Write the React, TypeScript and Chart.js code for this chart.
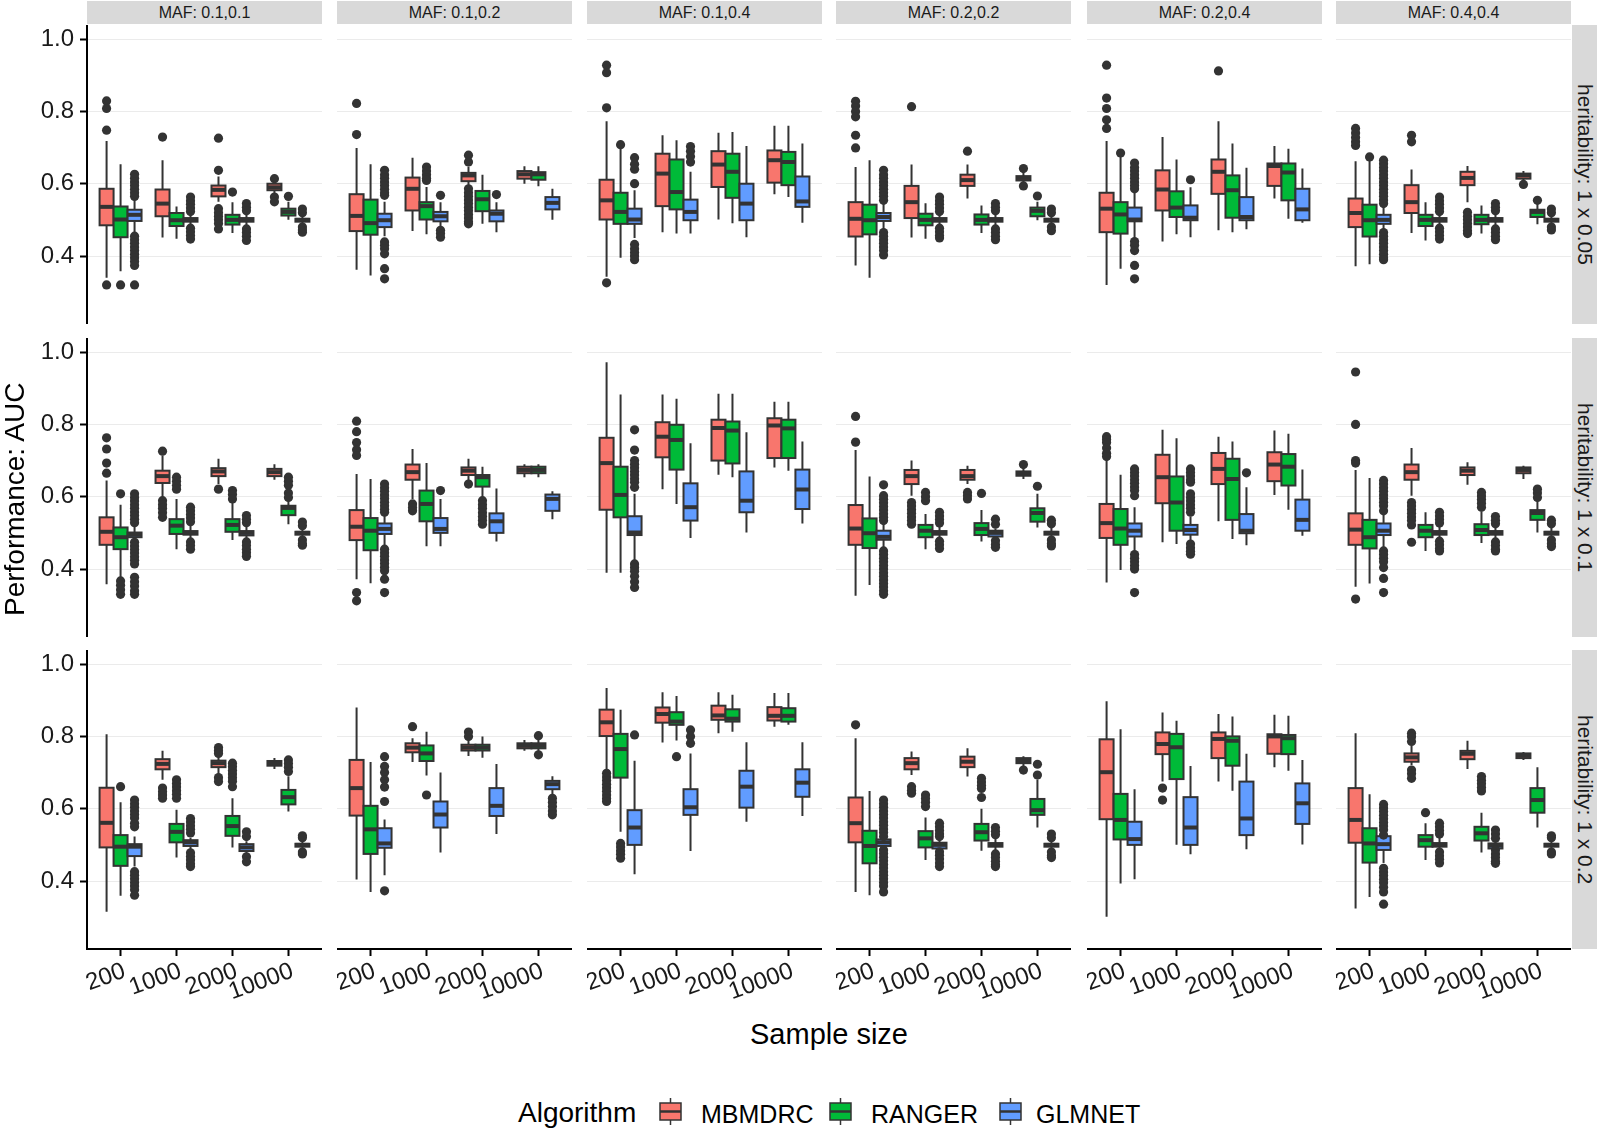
import React, { useEffect, useRef } from 'react';
import { Chart, registerables } from 'chart.js';

Chart.register(...registerables);

// ---- categories & labels ----
const SAMPLE_SIZES = ['200', '1000', '2000', '10000'];
const MAF_LABELS = ['MAF: 0.1,0.1', 'MAF: 0.1,0.2', 'MAF: 0.1,0.4', 'MAF: 0.2,0.2', 'MAF: 0.2,0.4', 'MAF: 0.4,0.4'];
const HERITABILITY_LABELS = ['heritability: 1 x 0.05', 'heritability: 1 x 0.1', 'heritability: 1 x 0.2'];
const ALGORITHMS = ['MBMDRC', 'RANGER', 'GLMNET'];
const ALGO_COLORS = ['#F8766D', '#00BA38', '#619CFF'];
const Y_TICKS = [0.4, 0.6, 0.8, 1.0];

// Box statistics per [heritability row][MAF column][sample size] = [lower whisker, Q1, median, Q3, upper whisker]
type Stat = number[];
const MBMDRC_STATS: Stat[][][] = [
  [
    [[0.34, 0.485, 0.536, 0.586, 0.718], [0.451, 0.51, 0.545, 0.584, 0.665], [0.55, 0.565, 0.583, 0.595, 0.62], [0.57, 0.582, 0.59, 0.6, 0.605]],
    [[0.362, 0.469, 0.511, 0.571, 0.699], [0.469, 0.526, 0.586, 0.617, 0.672], [0.594, 0.607, 0.623, 0.63, 0.646], [0.6, 0.614, 0.626, 0.635, 0.648]],
    [[0.343, 0.501, 0.554, 0.611, 0.773], [0.466, 0.538, 0.628, 0.683, 0.734], [0.501, 0.591, 0.653, 0.69, 0.741], [0.571, 0.603, 0.665, 0.692, 0.76]],
    [[0.374, 0.454, 0.503, 0.549, 0.646], [0.451, 0.505, 0.549, 0.594, 0.653], [0.559, 0.594, 0.61, 0.625, 0.653], [0.6, 0.609, 0.616, 0.621, 0.632]],
    [[0.32, 0.466, 0.531, 0.575, 0.718], [0.44, 0.526, 0.584, 0.637, 0.729], [0.471, 0.572, 0.633, 0.667, 0.773], [0.559, 0.594, 0.649, 0.656, 0.704]],
    [[0.372, 0.48, 0.519, 0.559, 0.662], [0.464, 0.519, 0.549, 0.596, 0.639], [0.549, 0.596, 0.616, 0.633, 0.649], [0.605, 0.614, 0.623, 0.628, 0.635]],
  ],
  [
    [[0.358, 0.467, 0.503, 0.543, 0.645], [0.598, 0.638, 0.657, 0.672, 0.714], [0.635, 0.657, 0.67, 0.679, 0.705], [0.647, 0.657, 0.668, 0.677, 0.69]],
    [[0.372, 0.48, 0.517, 0.563, 0.663], [0.594, 0.647, 0.668, 0.689, 0.732], [0.645, 0.66, 0.672, 0.681, 0.705], [0.654, 0.665, 0.674, 0.683, 0.69]],
    [[0.39, 0.564, 0.693, 0.763, 0.972], [0.621, 0.709, 0.766, 0.806, 0.883], [0.661, 0.7, 0.79, 0.813, 0.885], [0.681, 0.707, 0.797, 0.817, 0.863]],
    [[0.326, 0.467, 0.512, 0.577, 0.729], [0.603, 0.635, 0.657, 0.674, 0.7], [0.635, 0.647, 0.657, 0.674, 0.686], [0.649, 0.658, 0.665, 0.67, 0.68]],
    [[0.363, 0.486, 0.527, 0.58, 0.7], [0.474, 0.582, 0.654, 0.716, 0.785], [0.532, 0.635, 0.677, 0.721, 0.766], [0.605, 0.643, 0.689, 0.723, 0.783]],
    [[0.351, 0.467, 0.509, 0.554, 0.674], [0.603, 0.647, 0.668, 0.689, 0.735], [0.633, 0.66, 0.672, 0.681, 0.695], [0.649, 0.665, 0.674, 0.681, 0.686]],
  ],
  [
    [[0.315, 0.493, 0.561, 0.658, 0.806], [0.68, 0.709, 0.724, 0.737, 0.76], [0.69, 0.715, 0.726, 0.733, 0.745], [0.71, 0.719, 0.726, 0.732, 0.74]],
    [[0.404, 0.581, 0.657, 0.735, 0.88], [0.729, 0.756, 0.769, 0.781, 0.795], [0.746, 0.761, 0.769, 0.777, 0.79], [0.76, 0.767, 0.774, 0.781, 0.79]],
    [[0.707, 0.801, 0.839, 0.874, 0.934], [0.783, 0.838, 0.862, 0.88, 0.922], [0.809, 0.846, 0.858, 0.885, 0.922], [0.827, 0.844, 0.857, 0.881, 0.92]],
    [[0.37, 0.507, 0.56, 0.631, 0.795], [0.693, 0.709, 0.726, 0.74, 0.758], [0.689, 0.715, 0.73, 0.744, 0.767], [0.715, 0.726, 0.732, 0.74, 0.745]],
    [[0.301, 0.571, 0.701, 0.792, 0.897], [0.675, 0.751, 0.779, 0.811, 0.866], [0.675, 0.74, 0.793, 0.811, 0.862], [0.715, 0.752, 0.8, 0.806, 0.86]],
    [[0.324, 0.506, 0.569, 0.657, 0.809], [0.72, 0.73, 0.742, 0.753, 0.775], [0.71, 0.737, 0.752, 0.76, 0.788], [0.735, 0.74, 0.747, 0.753, 0.757]],
  ],
];

const RANGER_STATS: Stat[][][] = [
  [
    [[0.358, 0.452, 0.501, 0.537, 0.654], [0.448, 0.483, 0.499, 0.519, 0.537], [0.464, 0.487, 0.5, 0.514, 0.549], [0.5, 0.512, 0.522, 0.531, 0.55]],
    [[0.346, 0.459, 0.491, 0.556, 0.654], [0.46, 0.501, 0.538, 0.549, 0.591], [0.489, 0.524, 0.557, 0.58, 0.625], [0.593, 0.611, 0.626, 0.632, 0.648]],
    [[0.395, 0.489, 0.522, 0.575, 0.697], [0.462, 0.529, 0.577, 0.667, 0.72], [0.491, 0.561, 0.633, 0.683, 0.743], [0.563, 0.596, 0.66, 0.688, 0.76]],
    [[0.34, 0.46, 0.499, 0.542, 0.665], [0.448, 0.485, 0.5, 0.517, 0.546], [0.464, 0.487, 0.5, 0.515, 0.54], [0.499, 0.51, 0.525, 0.534, 0.55]],
    [[0.365, 0.462, 0.515, 0.549, 0.674], [0.46, 0.508, 0.534, 0.579, 0.667], [0.466, 0.506, 0.582, 0.623, 0.711], [0.503, 0.554, 0.631, 0.656, 0.697]],
    [[0.377, 0.454, 0.499, 0.542, 0.665], [0.443, 0.483, 0.5, 0.514, 0.549], [0.462, 0.488, 0.5, 0.514, 0.54], [0.488, 0.508, 0.522, 0.528, 0.545]],
  ],
  [
    [[0.372, 0.455, 0.488, 0.515, 0.578], [0.455, 0.497, 0.52, 0.538, 0.594], [0.48, 0.503, 0.522, 0.538, 0.589], [0.524, 0.549, 0.569, 0.575, 0.589]],
    [[0.361, 0.452, 0.506, 0.541, 0.649], [0.463, 0.532, 0.58, 0.617, 0.693], [0.598, 0.628, 0.654, 0.66, 0.683], [0.654, 0.665, 0.674, 0.683, 0.69]],
    [[0.39, 0.543, 0.605, 0.683, 0.883], [0.58, 0.675, 0.757, 0.799, 0.871], [0.654, 0.692, 0.783, 0.808, 0.885], [0.672, 0.707, 0.789, 0.813, 0.863]],
    [[0.356, 0.458, 0.499, 0.54, 0.656], [0.455, 0.488, 0.506, 0.522, 0.552], [0.476, 0.494, 0.511, 0.527, 0.563], [0.515, 0.531, 0.555, 0.568, 0.608]],
    [[0.397, 0.467, 0.512, 0.566, 0.661], [0.469, 0.506, 0.584, 0.656, 0.762], [0.483, 0.536, 0.649, 0.705, 0.753], [0.564, 0.631, 0.683, 0.718, 0.774]],
    [[0.36, 0.457, 0.488, 0.536, 0.652], [0.45, 0.488, 0.506, 0.522, 0.557], [0.472, 0.494, 0.508, 0.524, 0.56], [0.501, 0.536, 0.555, 0.563, 0.59]],
  ],
  [
    [[0.359, 0.442, 0.495, 0.527, 0.618], [0.465, 0.507, 0.536, 0.558, 0.597], [0.493, 0.525, 0.552, 0.58, 0.629], [0.592, 0.612, 0.632, 0.652, 0.69]],
    [[0.37, 0.475, 0.543, 0.608, 0.729], [0.692, 0.732, 0.753, 0.775, 0.813], [0.741, 0.761, 0.769, 0.777, 0.8], [0.756, 0.767, 0.774, 0.781, 0.79]],
    [[0.536, 0.686, 0.765, 0.807, 0.874], [0.789, 0.832, 0.841, 0.867, 0.912], [0.813, 0.841, 0.849, 0.875, 0.915], [0.832, 0.841, 0.857, 0.878, 0.92]],
    [[0.361, 0.449, 0.497, 0.539, 0.649], [0.458, 0.493, 0.518, 0.538, 0.576], [0.484, 0.512, 0.535, 0.558, 0.6], [0.548, 0.583, 0.596, 0.627, 0.68]],
    [[0.393, 0.515, 0.569, 0.641, 0.82], [0.5, 0.682, 0.77, 0.807, 0.843], [0.65, 0.719, 0.788, 0.8, 0.855], [0.705, 0.751, 0.795, 0.804, 0.857]],
    [[0.356, 0.451, 0.504, 0.546, 0.64], [0.458, 0.495, 0.513, 0.527, 0.56], [0.479, 0.512, 0.532, 0.55, 0.589], [0.548, 0.589, 0.624, 0.657, 0.715]],
  ],
];

const GLMNET_STATS: Stat[][][] = [
  [
    [[0.46, 0.497, 0.514, 0.528, 0.56], [0.48, 0.495, 0.5, 0.505, 0.52], [0.48, 0.495, 0.5, 0.505, 0.52], [0.485, 0.495, 0.5, 0.503, 0.515]],
    [[0.455, 0.48, 0.499, 0.517, 0.55], [0.48, 0.496, 0.51, 0.522, 0.549], [0.466, 0.496, 0.517, 0.526, 0.549], [0.5, 0.529, 0.547, 0.563, 0.586]],
    [[0.45, 0.489, 0.501, 0.531, 0.582], [0.462, 0.499, 0.522, 0.556, 0.633], [0.452, 0.499, 0.545, 0.6, 0.704], [0.492, 0.536, 0.551, 0.62, 0.711]],
    [[0.47, 0.497, 0.508, 0.519, 0.55], [0.48, 0.495, 0.5, 0.505, 0.52], [0.48, 0.495, 0.5, 0.505, 0.52], [0.485, 0.495, 0.5, 0.503, 0.515]],
    [[0.45, 0.496, 0.501, 0.534, 0.58], [0.452, 0.499, 0.506, 0.54, 0.59], [0.474, 0.499, 0.508, 0.563, 0.644], [0.492, 0.499, 0.529, 0.586, 0.642]],
    [[0.47, 0.489, 0.5, 0.514, 0.54], [0.48, 0.495, 0.5, 0.505, 0.52], [0.48, 0.495, 0.5, 0.505, 0.52], [0.485, 0.495, 0.5, 0.503, 0.515]],
  ],
  [
    [[0.48, 0.488, 0.495, 0.501, 0.52], [0.48, 0.495, 0.5, 0.505, 0.52], [0.48, 0.493, 0.5, 0.505, 0.52], [0.485, 0.495, 0.5, 0.503, 0.515]],
    [[0.46, 0.497, 0.511, 0.526, 0.55], [0.463, 0.5, 0.511, 0.541, 0.594], [0.476, 0.5, 0.532, 0.554, 0.623], [0.538, 0.561, 0.594, 0.606, 0.615]],
    [[0.42, 0.494, 0.501, 0.546, 0.608], [0.486, 0.534, 0.571, 0.637, 0.748], [0.501, 0.557, 0.589, 0.67, 0.778], [0.526, 0.566, 0.62, 0.675, 0.753]],
    [[0.46, 0.481, 0.489, 0.506, 0.525], [0.48, 0.495, 0.5, 0.505, 0.52], [0.483, 0.49, 0.5, 0.506, 0.512], [0.485, 0.495, 0.5, 0.503, 0.515]],
    [[0.45, 0.49, 0.506, 0.526, 0.571], [0.475, 0.495, 0.508, 0.522, 0.545], [0.466, 0.499, 0.506, 0.552, 0.626], [0.492, 0.506, 0.536, 0.592, 0.675]],
    [[0.46, 0.494, 0.506, 0.526, 0.555], [0.48, 0.495, 0.5, 0.505, 0.52], [0.48, 0.495, 0.5, 0.505, 0.52], [0.485, 0.495, 0.5, 0.503, 0.515]],
  ],
  [
    [[0.44, 0.469, 0.495, 0.502, 0.523], [0.485, 0.497, 0.507, 0.513, 0.52], [0.473, 0.483, 0.493, 0.502, 0.51], [0.485, 0.495, 0.5, 0.503, 0.515]],
    [[0.416, 0.492, 0.504, 0.546, 0.57], [0.479, 0.548, 0.584, 0.62, 0.7], [0.53, 0.58, 0.608, 0.657, 0.724], [0.64, 0.654, 0.668, 0.677, 0.69]],
    [[0.419, 0.5, 0.548, 0.596, 0.733], [0.483, 0.583, 0.604, 0.654, 0.753], [0.564, 0.603, 0.661, 0.705, 0.784], [0.58, 0.633, 0.672, 0.709, 0.784]],
    [[0.49, 0.497, 0.507, 0.515, 0.52], [0.485, 0.49, 0.5, 0.506, 0.515], [0.48, 0.495, 0.5, 0.505, 0.52], [0.485, 0.495, 0.5, 0.503, 0.515]],
    [[0.405, 0.5, 0.516, 0.564, 0.654], [0.474, 0.5, 0.548, 0.632, 0.718], [0.488, 0.527, 0.573, 0.675, 0.752], [0.501, 0.558, 0.615, 0.67, 0.735]],
    [[0.45, 0.486, 0.502, 0.524, 0.524], [0.485, 0.495, 0.5, 0.505, 0.52], [0.488, 0.49, 0.498, 0.504, 0.512], [0.485, 0.495, 0.5, 0.503, 0.515]],
  ],
];

// Outlying AUC values per [row][column][sample size]
const MBMDRC_OUTLIERS: number[][][][] = [
  [
    [[0.829, 0.808, 0.748, 0.32], [0.729], [0.726, 0.637, 0.531, 0.52, 0.51, 0.5, 0.49, 0.475], [0.614, 0.563, 0.55]],
    [[0.822, 0.736], [], [0.679, 0.66, 0.586, 0.575, 0.565, 0.555, 0.545, 0.535, 0.525, 0.515, 0.505, 0.495, 0.489], []],
    [[0.928, 0.907, 0.81, 0.326], [], [], []],
    [[0.828, 0.815, 0.8, 0.785, 0.734, 0.699], [0.813], [0.69], [0.642, 0.594]],
    [[0.928, 0.837, 0.808, 0.777, 0.753], [], [0.912], []],
    [[0.753, 0.74, 0.728, 0.716, 0.706], [0.734, 0.716], [0.521, 0.51, 0.5, 0.49, 0.48, 0.47, 0.462], [0.598]],
  ],
  [
    [[0.763, 0.732, 0.693, 0.665], [0.726, 0.589, 0.578, 0.568, 0.556, 0.543], [0.621], []],
    [[0.809, 0.78, 0.75, 0.73, 0.714, 0.335, 0.312], [0.58, 0.57, 0.561], [0.635], []],
    [[], [], [], []],
    [[0.822, 0.751], [0.584, 0.574, 0.564, 0.554, 0.544, 0.534, 0.524], [0.612, 0.603, 0.594], [0.689]],
    [[0.766, 0.758, 0.75, 0.735, 0.72, 0.711], [], [], []],
    [[0.945, 0.8, 0.7, 0.693, 0.317], [0.584, 0.574, 0.564, 0.554, 0.544, 0.534, 0.522, 0.474], [], []],
  ],
  [
    [[], [0.657, 0.647, 0.638, 0.629], [0.769, 0.76, 0.753, 0.686, 0.675], []],
    [[], [0.827], [0.812, 0.8], []],
    [[0.698, 0.688, 0.678, 0.668, 0.658, 0.648, 0.638, 0.628, 0.62], [], [], []],
    [[0.832], [0.661, 0.651, 0.643], [], [0.707]],
    [[], [0.657, 0.624], [], []],
    [[], [0.809, 0.799, 0.786, 0.707, 0.697, 0.684], [], []],
  ],
];

const RANGER_OUTLIERS: number[][][][] = [
  [
    [[0.32], [], [0.577], [0.565]],
    [[], [0.646, 0.635, 0.625, 0.615, 0.609], [], []],
    [[0.708], [], [], []],
    [[], [], [], [0.566]],
    [[0.685], [], [], []],
    [[0.674], [], [], [0.554]],
  ],
  [
    [[0.608, 0.367, 0.355, 0.343, 0.33], [0.654, 0.643, 0.632, 0.621], [0.617, 0.606, 0.594], [0.654, 0.643, 0.632, 0.61, 0.598]],
    [[], [], [0.589, 0.578, 0.568, 0.556, 0.545, 0.535, 0.524], []],
    [[], [], [], []],
    [[], [0.612, 0.6, 0.589], [0.609], [0.629]],
    [[], [], [], []],
    [[], [], [0.612, 0.602, 0.592, 0.582, 0.571], [0.621, 0.61, 0.598]],
  ],
  [
    [[0.661], [0.68, 0.67, 0.66, 0.65, 0.64, 0.629], [0.726, 0.716, 0.706, 0.696, 0.686, 0.676, 0.661], [0.735, 0.725, 0.715, 0.703]],
    [[], [0.638], [], [0.802, 0.749]],
    [[0.504, 0.494, 0.484, 0.474, 0.463], [0.744], [], []],
    [[], [0.638, 0.628, 0.618, 0.606], [0.684, 0.674, 0.664, 0.656, 0.631], [0.723, 0.693]],
    [[], [], [], []],
    [[], [0.589], [0.689, 0.679, 0.669, 0.659, 0.649], []],
  ],
];

const GLMNET_OUTLIERS: number[][][][] = [
  [
    [[0.626, 0.615, 0.605, 0.595, 0.585, 0.575, 0.565, 0.455, 0.445, 0.435, 0.425, 0.415, 0.405, 0.395, 0.385, 0.374, 0.32], [0.563, 0.553, 0.543, 0.533, 0.523, 0.477, 0.467, 0.457, 0.447], [0.545, 0.535, 0.525, 0.475, 0.465, 0.455, 0.443], [0.53, 0.52, 0.48, 0.472, 0.466]],
    [[0.637, 0.625, 0.615, 0.605, 0.595, 0.585, 0.575, 0.568, 0.439, 0.43, 0.42, 0.406, 0.365, 0.337], [0.568, 0.471, 0.462, 0.452], [0.57], []],
    [[0.672, 0.654, 0.64, 0.6, 0.432, 0.42, 0.41, 0.4, 0.39], [0.703, 0.69, 0.675, 0.66], [], []],
    [[0.637, 0.625, 0.615, 0.605, 0.595, 0.585, 0.575, 0.565, 0.554, 0.465, 0.455, 0.445, 0.435, 0.425, 0.415, 0.403], [0.563, 0.553, 0.543, 0.533, 0.523, 0.477, 0.467, 0.457, 0.45], [0.545, 0.535, 0.525, 0.475, 0.465, 0.455, 0.445], [0.53, 0.52, 0.48, 0.47]],
    [[0.657, 0.645, 0.635, 0.625, 0.615, 0.605, 0.595, 0.586, 0.44, 0.43, 0.415, 0.374, 0.337], [0.611], [], []],
    [[0.665, 0.655, 0.645, 0.635, 0.625, 0.615, 0.605, 0.595, 0.585, 0.575, 0.565, 0.555, 0.545, 0.465, 0.455, 0.445, 0.435, 0.425, 0.415, 0.405, 0.395, 0.39], [0.563, 0.553, 0.543, 0.533, 0.523, 0.477, 0.467, 0.457, 0.447], [0.545, 0.535, 0.525, 0.475, 0.465, 0.455, 0.445], [0.53, 0.52, 0.48, 0.472]],
  ],
  [
    [[0.608, 0.598, 0.588, 0.578, 0.568, 0.558, 0.548, 0.538, 0.528, 0.474, 0.464, 0.454, 0.444, 0.434, 0.424, 0.414, 0.377, 0.365, 0.353, 0.34, 0.33], [0.571, 0.561, 0.551, 0.541, 0.531, 0.475, 0.465, 0.455], [0.548, 0.538, 0.528, 0.475, 0.465, 0.455, 0.445, 0.435], [0.53, 0.52, 0.48, 0.47, 0.466]],
    [[0.635, 0.625, 0.615, 0.605, 0.595, 0.585, 0.575, 0.565, 0.557, 0.455, 0.445, 0.435, 0.425, 0.415, 0.405, 0.395, 0.372, 0.335], [0.617], [], []],
    [[0.785, 0.729, 0.7, 0.69, 0.68, 0.67, 0.66, 0.65, 0.64, 0.626, 0.414, 0.404, 0.394, 0.38, 0.365, 0.349], [], [], []],
    [[0.633, 0.603, 0.593, 0.583, 0.573, 0.563, 0.553, 0.543, 0.534, 0.45, 0.44, 0.43, 0.42, 0.41, 0.4, 0.39, 0.38, 0.37, 0.36, 0.35, 0.34, 0.33], [0.557, 0.547, 0.537, 0.527, 0.477, 0.467, 0.457], [0.538, 0.524, 0.478, 0.468, 0.46], [0.535, 0.525, 0.48, 0.47, 0.464]],
    [[0.677, 0.667, 0.657, 0.647, 0.637, 0.627, 0.617, 0.603, 0.44, 0.43, 0.42, 0.41, 0.4, 0.335], [0.677, 0.667, 0.657, 0.647, 0.64, 0.608, 0.598, 0.588, 0.578, 0.568, 0.557, 0.469, 0.459, 0.449, 0.441], [0.666], []],
    [[0.645, 0.635, 0.625, 0.615, 0.605, 0.595, 0.585, 0.575, 0.561, 0.45, 0.44, 0.43, 0.42, 0.404, 0.374, 0.335], [0.557, 0.547, 0.537, 0.527, 0.477, 0.467, 0.457, 0.45], [0.545, 0.535, 0.525, 0.475, 0.465, 0.455, 0.45], [0.535, 0.525, 0.48, 0.47, 0.462]],
  ],
  [
    [[0.624, 0.614, 0.604, 0.594, 0.584, 0.574, 0.56, 0.55, 0.426, 0.416, 0.406, 0.396, 0.386, 0.376, 0.361], [0.573, 0.563, 0.553, 0.543, 0.533, 0.478, 0.468, 0.458, 0.448, 0.44], [0.536, 0.523, 0.467, 0.453], [0.525, 0.52, 0.48, 0.475]],
    [[0.744, 0.717, 0.7, 0.68, 0.66, 0.62, 0.373], [], [], [0.629, 0.618, 0.606, 0.594, 0.583]],
    [[0.804], [0.818, 0.8, 0.781], [], []],
    [[0.624, 0.614, 0.604, 0.594, 0.584, 0.574, 0.564, 0.554, 0.544, 0.534, 0.523, 0.486, 0.476, 0.466, 0.456, 0.446, 0.436, 0.426, 0.416, 0.406, 0.396, 0.386, 0.37], [0.56, 0.55, 0.54, 0.53, 0.523, 0.481, 0.471, 0.461, 0.45, 0.44], [0.548, 0.538, 0.528, 0.475, 0.465, 0.455, 0.445, 0.44], [0.53, 0.52, 0.48, 0.47, 0.465]],
    [[], [], [], []],
    [[0.612, 0.602, 0.592, 0.582, 0.572, 0.562, 0.552, 0.542, 0.527, 0.435, 0.425, 0.415, 0.405, 0.395, 0.383, 0.37, 0.336], [0.56, 0.55, 0.54, 0.53, 0.48, 0.47, 0.46, 0.45], [0.541, 0.53, 0.518, 0.486, 0.475, 0.465, 0.455, 0.449], [0.525, 0.52, 0.48, 0.475]],
  ],
];

const ALL_STATS = [MBMDRC_STATS, RANGER_STATS, GLMNET_STATS];
const ALL_OUTLIERS = [MBMDRC_OUTLIERS, RANGER_OUTLIERS, GLMNET_OUTLIERS];

// ---- layout ----
const FONT = '"Liberation Sans", Arial, Helvetica, sans-serif';
const PANEL_LEFT = [87, 337, 587, 836, 1087, 1336];
const PANEL_TOP = [25, 338, 650];
const PANEL_W = 235;
const PANEL_H = 299;
const Y_AXIS_W = 60;
const X_AXIS_H = 64;
const Y_MIN = 0.212;
const Y_MAX = 1.039;
const DODGE = 0.25;
const BOX_HALF = 0.125;
const INK = '#333333';
const STRIP_BG = '#d9d9d9';
const TICK_FONT_SIZE = 24;

const boxplotPlugin = {
  id: 'boxplot',
  beforeDatasetsDraw(chart: any, _args: any, opts: any) {
    const { ctx } = chart;
    const x = chart.scales.x;
    const y = chart.scales.y;
    const stats: Stat[][] = opts.stats;
    ctx.save();
    ctx.strokeStyle = INK;
    stats.forEach((algoStats, a) => {
      algoStats.forEach((s, i) => {
        const center = i + 1 + (a - 1) * DODGE;
        const xl = x.getPixelForValue(center - BOX_HALF);
        const xr = x.getPixelForValue(center + BOX_HALF);
        const xc = x.getPixelForValue(center);
        const [lo, q1, med, q3, hi] = s.map((v) => y.getPixelForValue(v));
        ctx.lineWidth = 2;
        ctx.beginPath();
        ctx.moveTo(xc, hi);
        ctx.lineTo(xc, q3);
        ctx.moveTo(xc, q1);
        ctx.lineTo(xc, lo);
        ctx.stroke();
        ctx.fillStyle = ALGO_COLORS[a];
        ctx.fillRect(xl, q3, xr - xl, q1 - q3);
        ctx.strokeRect(xl, q3, xr - xl, q1 - q3);
        ctx.lineWidth = 4;
        ctx.beginPath();
        ctx.moveTo(xl, med);
        ctx.lineTo(xr, med);
        ctx.stroke();
      });
    });
    ctx.restore();
  },
};

function Panel({ row, col }: { row: number; col: number }) {
  const ref = useRef<HTMLCanvasElement>(null);
  const isLeft = col === 0;
  const isBottom = row === HERITABILITY_LABELS.length - 1;
  const width = PANEL_W + (isLeft ? Y_AXIS_W : 0);
  const height = PANEL_H + (isBottom ? X_AXIS_H : 0);

  useEffect(() => {
    const stats = ALL_STATS.map((s) => s[row][col]);
    const datasets = ALGORITHMS.map((name, a) => ({
      label: name,
      data: ALL_OUTLIERS[a][row][col].flatMap((vals, i) =>
        vals.map((v) => ({ x: i + 1 + (a - 1) * DODGE, y: v }))
      ),
      pointRadius: 4.6,
      pointHoverRadius: 4.6,
      backgroundColor: INK,
      borderWidth: 0,
    }));
    const tickFont = { family: FONT, size: TICK_FONT_SIZE };
    const chart = new Chart(ref.current as HTMLCanvasElement, {
      type: 'scatter',
      data: { datasets },
      options: {
        responsive: false,
        animation: false,
        events: [],
        layout: { padding: 0, autoPadding: false },
        plugins: {
          legend: { display: false },
          tooltip: { enabled: false },
          boxplot: { stats },
        } as any,
        scales: {
          x: {
            type: 'linear',
            min: 0.4,
            max: 4.6,
            display: isBottom,
            afterBuildTicks: (s: any) => {
              s.ticks = SAMPLE_SIZES.map((_, i) => ({ value: i + 1 }));
            },
            afterFit: (s: any) => {
              s.height = isBottom ? X_AXIS_H : 0;
              s.paddingLeft = 0;
              s.paddingRight = 0;
            },
            ticks: {
              callback: (v: any) => SAMPLE_SIZES[Number(v) - 1],
              minRotation: 20,
              maxRotation: 20,
              autoSkip: false,
              font: tickFont,
              color: '#1a1a1a',
              padding: 1,
              labelOffset: 4,
            },
            grid: { drawOnChartArea: false, tickLength: 7, tickColor: '#000', tickWidth: 2 },
            border: { display: true, color: '#000', width: 2 },
          },
          y: {
            min: Y_MIN,
            max: Y_MAX,
            afterBuildTicks: (s: any) => {
              s.ticks = Y_TICKS.map((v) => ({ value: v }));
            },
            afterFit: (s: any) => {
              s.width = isLeft ? Y_AXIS_W : 0;
              s.paddingTop = 0;
              s.paddingBottom = 0;
            },
            ticks: {
              display: isLeft,
              callback: (v: any) => Number(v).toFixed(1),
              font: tickFont,
              color: '#1a1a1a',
              padding: 6,
            },
            grid: { color: '#ebebeb', lineWidth: 1, drawTicks: isLeft, tickLength: 7, tickColor: '#000', tickWidth: 2 },
            border: { display: isLeft, color: '#000', width: 2 },
          },
        },
      } as any,
      plugins: [boxplotPlugin],
    });
    return () => chart.destroy();
  }, [row, col]);

  return (
    <canvas
      ref={ref}
      width={width}
      height={height}
      style={{ position: 'absolute', left: PANEL_LEFT[col] - (isLeft ? Y_AXIS_W : 0), top: PANEL_TOP[row], width, height }}
    />
  );
}

function LegendKey({ color }: { color: string }) {
  return (
    <svg width={25} height={27} viewBox="0 0 25 27">
      <line x1={12.5} y1={0} x2={12.5} y2={27} stroke={INK} strokeWidth={1.5} />
      <rect x={2} y={5} width={21} height={17} fill={color} stroke={INK} strokeWidth={1.5} />
      <line x1={2} y1={13.5} x2={23} y2={13.5} stroke={INK} strokeWidth={2.5} />
    </svg>
  );
}

const LEGEND_KEY_LEFT = [658, 828, 998];
const LEGEND_LABEL_LEFT = [701, 871, 1036];

export default function App() {
  return (
    <div
      style={{
        position: 'absolute',
        left: 0,
        top: 0,
        width: 1598,
        height: 1130,
        background: '#fff',
        fontFamily: FONT,
        color: '#000',
        overflow: 'hidden',
      }}
    >
      {HERITABILITY_LABELS.map((_, r) => MAF_LABELS.map((__, c) => <Panel key={`${r}-${c}`} row={r} col={c} />))}

      {MAF_LABELS.map((label, c) => (
        <div
          key={label}
          style={{
            position: 'absolute',
            left: PANEL_LEFT[c],
            top: 1,
            width: PANEL_W,
            height: 23,
            background: STRIP_BG,
            color: '#1a1a1a',
            fontSize: 16,
            display: 'flex',
            alignItems: 'center',
            justifyContent: 'center',
          }}
        >
          {label}
        </div>
      ))}

      {HERITABILITY_LABELS.map((label, r) => (
        <div
          key={label}
          style={{
            position: 'absolute',
            left: 1572,
            top: PANEL_TOP[r],
            width: 25,
            height: PANEL_H,
            background: STRIP_BG,
            color: '#1a1a1a',
            fontSize: 21,
            display: 'flex',
            alignItems: 'center',
            justifyContent: 'center',
            writingMode: 'vertical-rl',
            whiteSpace: 'nowrap',
          }}
        >
          {label}
        </div>
      ))}

      <div
        style={{
          position: 'absolute',
          left: 0,
          top: PANEL_TOP[0] + 12,
          width: 30,
          height: PANEL_TOP[2] + PANEL_H - PANEL_TOP[0],
          display: 'flex',
          alignItems: 'center',
          justifyContent: 'center',
          writingMode: 'vertical-rl',
          transform: 'rotate(180deg)',
          fontSize: 28,
          whiteSpace: 'nowrap',
        }}
      >
        Performance: AUC
      </div>

      <div
        style={{
          position: 'absolute',
          left: PANEL_LEFT[0],
          top: 1017,
          width: PANEL_LEFT[5] + PANEL_W - PANEL_LEFT[0],
          textAlign: 'center',
          fontSize: 29,
          lineHeight: '34px',
        }}
      >
        Sample size
      </div>

      <div style={{ position: 'absolute', left: 518, top: 1097, fontSize: 28, lineHeight: '32px' }}>Algorithm</div>
      {ALGORITHMS.map((name, a) => (
        <React.Fragment key={name}>
          <div style={{ position: 'absolute', left: LEGEND_KEY_LEFT[a], top: 1098, lineHeight: 0 }}>
            <LegendKey color={ALGO_COLORS[a]} />
          </div>
          <div style={{ position: 'absolute', left: LEGEND_LABEL_LEFT[a], top: 1100, fontSize: 25, lineHeight: '28px' }}>
            {name}
          </div>
        </React.Fragment>
      ))}
    </div>
  );
}
